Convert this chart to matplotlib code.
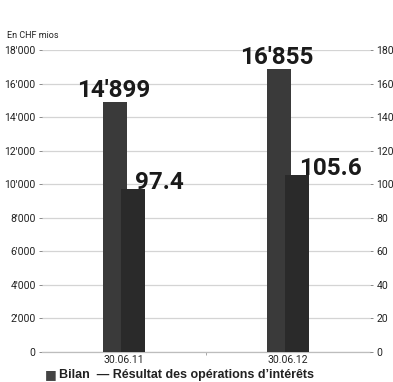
import numpy as np
import matplotlib
matplotlib.use("Agg")
import matplotlib.pyplot as plt

# Chiffres semestriels
dates = ["30.06.11", "30.06.12"]
bilan = [14899, 16855]          # CHF mios, axe gauche
resultat = [97.4, 105.6]        # CHF mios, axe droit
bilan_labels = ["14'899", "16'855"]
resultat_labels = ["97.4", "105.6"]
left_ticks = np.arange(0, 18001, 2000)
right_ticks = np.arange(0, 181, 20)

small = ["Roboto", "DejaVu Sans"]
bold = ["Liberation Sans", "DejaVu Sans"]

fig = plt.figure(figsize=(3.93, 3.82), dpi=100)
W, H = 393, 382
ax = fig.add_axes([42 / W, (H - 352) / H, (370 - 42) / W, (352 - 50) / H])
ax2 = ax.twinx()

x = np.arange(len(dates))
bw = 0.148
off = 0.053

ax.bar(x - off, bilan, width=bw, color="#3a3a3a", zorder=3)
ax2.bar(x + off, resultat, width=bw, color="#2a2a2a", zorder=3)

for xi, v, lab in zip(x, bilan, bilan_labels):
    ax.annotate(lab, (xi - off, v), xytext=(-1.5, 3.5), textcoords="offset points",
                ha="center", va="baseline", fontsize=17.5, fontweight="bold",
                family=small, color="#1a1a1a")
for xi, v, lab in zip(x, resultat, resultat_labels):
    ax2.annotate(lab, (xi + off, v), xytext=(1.5, 0), textcoords="offset points",
                 ha="left", va="baseline", fontsize=17.5, fontweight="bold",
                 family=small, color="#1a1a1a")

ax.set_xlim(-0.5, 1.5)
ax.set_ylim(0, 18000)
ax2.set_ylim(0, 180)
ax.set_yticks(left_ticks)
ax.set_yticklabels([f"{t:,}".replace(",", "'") for t in left_ticks],
                   family=small, fontsize=7.5)
ax2.set_yticks(right_ticks)
ax2.set_yticklabels([str(t) for t in right_ticks], family=small, fontsize=7.5)
ax.set_xticks(x)
ax.set_xticklabels(dates, family=small, fontsize=7.5)
ax.set_xticks([0.5], minor=True)

ax.grid(axis="y", color="#d4d4d4", linewidth=0.9, zorder=0)
ax.set_axisbelow(True)
for a in (ax, ax2):
    for s in a.spines.values():
        s.set_visible(False)
ax.spines["bottom"].set_visible(True)
ax.spines["bottom"].set_color("#bdbdbd")
ax.spines["bottom"].set_linewidth(0.9)

ax.tick_params(axis="y", length=2.5, width=0.6, color="#777777", pad=2,
               labelcolor="#222222")
ax2.tick_params(axis="y", length=2.5, width=0.6, color="#777777", pad=2,
                labelcolor="#222222")
ax.tick_params(axis="x", length=0, pad=2, labelcolor="#222222")
ax.tick_params(axis="x", which="minor", length=2, width=0.6, color="#999999")

fig.text(7 / W, 1 - 35 / H, "En CHF mios", fontsize=6.5, family=small,
         color="#222222", va="center")

# légende
fig.text(45 / W, 1 - 375 / H, "■", fontsize=9, color="#444444", va="center",
         family=["DejaVu Sans"])
fig.text(59 / W, 1 - 375 / H, "Bilan  — Résultat des opérations d’intérêts",
         fontsize=9, fontweight="bold", family=bold, color="#222222", va="center")

fig.savefig("out.png", dpi=100)
